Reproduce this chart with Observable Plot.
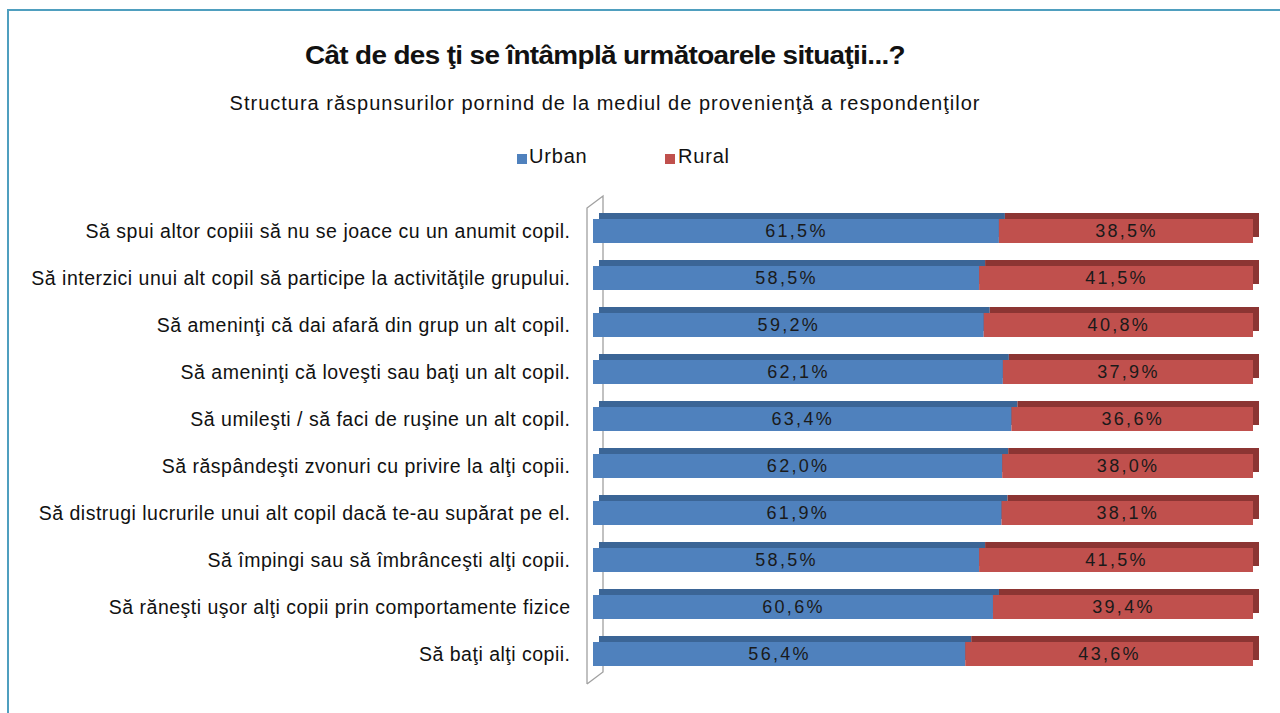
<!DOCTYPE html>
<html><head><meta charset="utf-8">
<script src="https://cdn.jsdelivr.net/npm/d3@7"></script>
<script src="https://cdn.jsdelivr.net/npm/@observablehq/plot@0.6"></script>
<style>
body{margin:0;background:#fff;font-family:"Liberation Sans",Arial,sans-serif;overflow:hidden;}
#frame{position:absolute;left:7px;top:9px;width:1290px;height:720px;border-top:2.5px solid #4f9fbf;border-left:2.5px solid #4f9fbf;}
.c{position:absolute;left:0;white-space:nowrap;color:#111;}
#title{top:40px;font-size:26px;font-weight:bold;letter-spacing:-0.6px;transform-origin:0 0;}
#sub{top:92px;font-size:20px;letter-spacing:1px;}
.lg{position:absolute;top:145px;font-size:20px;letter-spacing:0.8px;color:#111;}
.sq{position:absolute;top:154px;width:10px;height:10px;}
#chart{position:absolute;top:190px;left:0;}
#chart g[aria-label="y-axis tick label"]{letter-spacing:0.5px;}
#chart g[aria-label="text"]{letter-spacing:2.3px;}
</style></head><body>
<div id="frame"></div>
<div id="title" class="c">Cât de des ţi se întâmplă următoarele situaţii...?</div>
<div id="sub" class="c">Structura răspunsurilor pornind de la mediul de provenienţă a respondenţilor</div>
<div class="sq" style="left:517px;background:#4f81bd"></div><div class="lg" style="left:529px">Urban</div>
<div class="sq" style="left:665px;background:#c0504d"></div><div class="lg" style="left:678px">Rural</div>
<div id="chart"></div>
<script>
const categories = [
  "Să spui altor copiii să nu se joace cu un anumit copil.",
  "Să interzici unui alt copil să participe la activităţile grupului.",
  "Să ameninţi că dai afară din grup un alt copil.",
  "Să ameninţi că loveşti sau baţi un alt copil.",
  "Să umileşti / să faci de ruşine un alt copil.",
  "Să răspândeşti zvonuri cu privire la alţi copii.",
  "Să distrugi lucrurile unui alt copil dacă te-au supărat pe el.",
  "Să împingi sau să îmbrânceşti alţi copii.",
  "Să răneşti uşor alţi copii prin comportamente fizice",
  "Să baţi alţi copii."
];
const urban = [61.5, 58.5, 59.2, 62.1, 63.4, 62.0, 61.9, 58.5, 60.6, 56.4];
const rural = [38.5, 41.5, 40.8, 37.9, 36.6, 38.0, 38.1, 41.5, 39.4, 43.6];
const seriesNames = ["Urban", "Rural"];

function place(id, cx, w) {
  const el = document.getElementById(id);
  const r = el.getBoundingClientRect();
  if (w) {
    const s = w / r.width;
    el.style.transform = `scaleX(${s})`;
    el.style.left = (cx - w / 2) + "px";
  } else {
    el.style.left = (cx - r.width / 2) + "px";
  }
}
place("title", 605, 600);
place("sub", 605);

const data = [];
categories.forEach((c, i) => {
  data.push({cat: c, series: "Urban", value: urban[i]});
  data.push({cat: c, series: "Rural", value: rural[i]});
});
const fmt = v => v.toFixed(1).replace(".", ",") + "%";
const stackOpts = {x: "value", y: "cat", z: "series", order: seriesNames};

function wall(index, scales, values, dim) {
  const x0 = scales.x(0);
  const t = dim.marginTop, b = dim.height - dim.marginBottom;
  const fx = x0 - 6, bx = x0 + 10, d = 12;
  const g = d3.create("svg:g").attr("fill", "none").attr("stroke", "#a0a0a0").attr("stroke-width", 1.3);
  g.append("path").attr("d", `M${fx},${b} L${fx},${t} L${bx},${t - d} L${bx},${b - d} L${fx},${b}`);
  return g.node();
}

const plot = Plot.plot({
  width: 1280,
  height: 500,
  marginLeft: 593,
  marginRight: 27,
  marginTop: 18,
  marginBottom: 6,
  style: {fontFamily: "Liberation Sans, Arial, sans-serif", fontSize: "19.5px", color: "#111"},
  x: {domain: [0, 100], axis: null},
  y: {domain: categories, range: [26, 479], paddingInner: 0.5, paddingOuter: 0, label: null},
  color: {domain: seriesNames, range: ["#4f81bd", "#c0504d"]},
  marks: [
    wall,
    Plot.barX(data, Plot.stackX({...stackOpts, fill: d => d.series === "Urban" ? "#3b6596" : "#8c3533", dx: 6, dy: -6})),
    Plot.barX(data, Plot.stackX({...stackOpts, fill: "series"})),
    Plot.textX(data, Plot.stackX({...stackOpts, text: d => fmt(d.value), fill: "#1a1a1a", fontSize: 18})),
    Plot.axisY({tickSize: 0, tickPadding: 23, fontSize: 19.5, label: null, fill: "#111"})
  ]
});
document.getElementById("chart").appendChild(plot);
</script>
</body></html>
